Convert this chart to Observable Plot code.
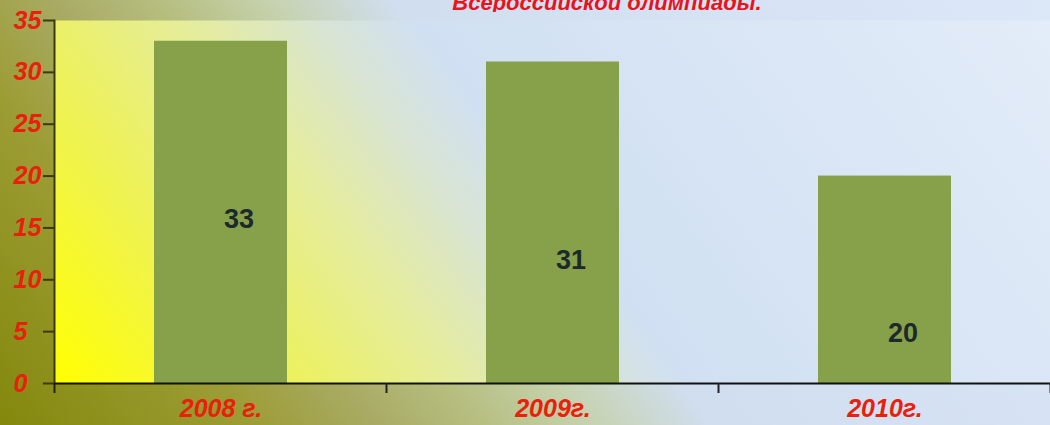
<!DOCTYPE html>
<html>
<head>
<meta charset="utf-8">
<script src="https://cdn.jsdelivr.net/npm/d3@7"></script>
<script src="https://cdn.jsdelivr.net/npm/@observablehq/plot@0.6"></script>
<style>
  html, body { margin: 0; padding: 0; }
  #wrap {
    width: 1050px; height: 425px; overflow: hidden; position: relative;
    background: linear-gradient(53deg, #84880c 0%, #9c9c34 18%, #a8aa62 27%, #b6be80 35%, #c6d2ae 43%, #d0def0 52%, #dce7f8 100%);
    font-family: "Liberation Sans", Arial, sans-serif;
  }
  #title { height: 12px; overflow: hidden; text-align: center; }
  #title span {
    display: block; margin-top: -8px; margin-left: 164px;
    font: italic bold 22px/22px "Liberation Sans", Arial, sans-serif; color: #e8141c;
  }
  svg { display: block; }
</style>
</head>
<body>
<div id="wrap">
  <div id="title"><span id="titleText"></span></div>
  <div id="chart"></div>
</div>
<script>
const titleText = "Всероссийской олимпиады.";
const years = ["2008 г.", "2009г.", "2010г."];
const participants = [33, 31, 20];
const labelLevels = [15.8, 11.9, 4.8];
const yTicks = [0, 5, 10, 15, 20, 25, 30, 35];

document.getElementById("titleText").textContent = titleText;

const data = years.map((year, i) => ({year, value: participants[i], labelAt: labelLevels[i]}));

function gradientDefs(index, scales, values, dimensions) {
  const left = dimensions.marginLeft;
  const bottom = dimensions.height - dimensions.marginBottom;
  const defs = d3.create("svg:defs");
  const g = defs.append("linearGradient")
    .attr("id", "plotBg")
    .attr("gradientUnits", "userSpaceOnUse")
    .attr("x1", left).attr("y1", bottom)
    .attr("x2", left + 882).attr("y2", bottom - 657);
  [[0, "#ffff00"], [0.16, "#eef256"], [0.3, "#e4eca0"], [0.39, "#d8e4d4"], [0.46, "#d0e0f2"], [1, "#e6eefa"]]
    .forEach(([o, c]) => g.append("stop").attr("offset", o).attr("stop-color", c));
  return defs.node();
}

function bandBoundaryTicks(index, scales, values, dimensions) {
  const x = scales.x;
  const desc = scales.scales && scales.scales.x;
  const step = (desc && desc.step) ? desc.step : (x(years[1]) - x(years[0]));
  const bw = (desc && desc.bandwidth != null) ? desc.bandwidth : step * 0.4;
  const bottom = dimensions.height - dimensions.marginBottom;
  const edges = years.map(y => x(y) + bw / 2 - step / 2);
  edges.push(edges[edges.length - 1] + step);
  const g = d3.create("svg:g");
  g.selectAll("line").data(edges).join("line")
    .attr("x1", d => d).attr("x2", d => d)
    .attr("y1", bottom).attr("y2", bottom + 10)
    .attr("stroke", "#222").attr("stroke-width", 2);
  return g.node();
}

const chart = Plot.plot({
  width: 1050,
  height: 413,
  marginLeft: 54,
  marginRight: 0,
  marginTop: 8,
  marginBottom: 42,
  style: {background: "transparent", overflow: "visible", fontFamily: "'Liberation Sans', Arial, sans-serif"},
  x: {domain: years, paddingInner: 0.6, paddingOuter: 0.3, label: null},
  y: {domain: [0, 35], label: null},
  marks: [
    gradientDefs,
    Plot.frame({fill: "url(#plotBg)", stroke: "none"}),
    Plot.barY(data, {x: "year", y: "value", fill: "#87a14b"}),
    Plot.text(data, {x: "year", y: "labelAt", text: d => String(d.value), dx: 18,
      fontSize: 27, fontWeight: "bold", fill: "#1c2a2c"}),
    Plot.axisY({ticks: yTicks, tickSize: 11, tickPadding: 30, textAnchor: "start",
      fontSize: 25, fontWeight: "bold", fontStyle: "italic", fill: "#e8200c",
      stroke: "#3a3a12", strokeWidth: 2, tickFormat: d => String(d), label: null}),
    Plot.axisX({tickSize: 0, tickPadding: 16, fontSize: 25, fontWeight: "bold", fontStyle: "italic",
      fill: "#e8200c", label: null}),
    Plot.frame({anchor: "left", stroke: "#3a3a12", strokeWidth: 2}),
    Plot.ruleY([0], {stroke: "#111", strokeWidth: 2}),
    bandBoundaryTicks
  ]
});
document.getElementById("chart").appendChild(chart);
</script>
</body>
</html>
